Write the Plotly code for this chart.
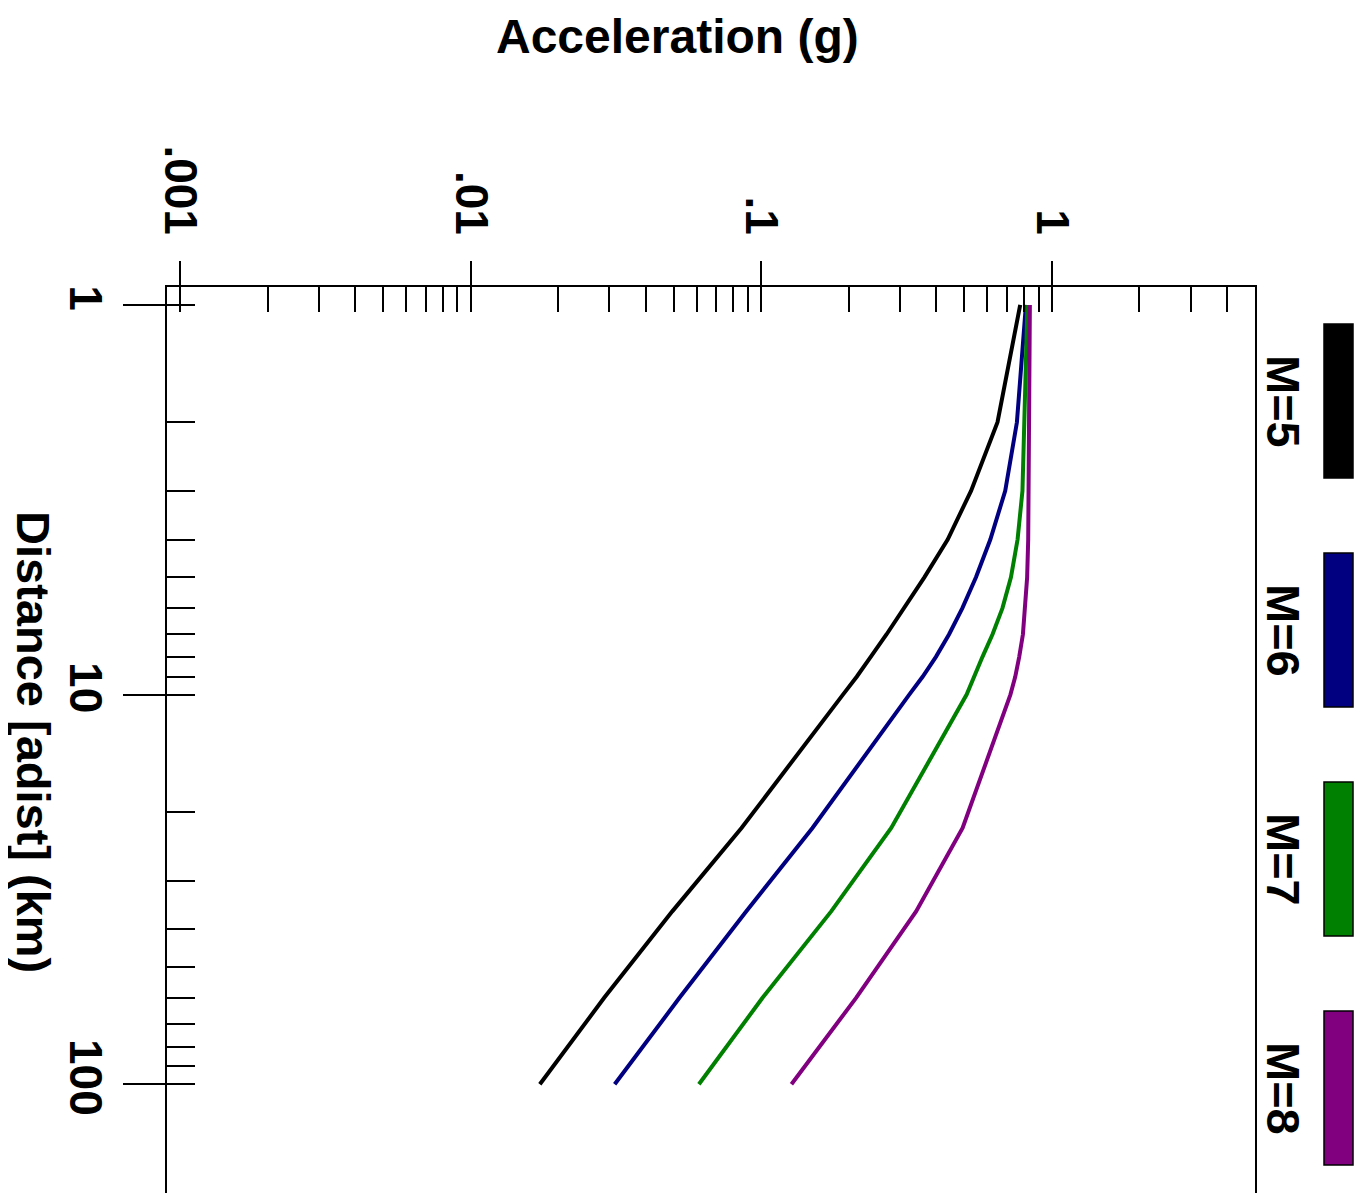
import numpy as np
import plotly.graph_objects as go

# ---------------------------------------------
# Data
# ---------------------------------------------
DISTANCE_KM = [1, 2, 3, 4, 5, 6, 7, 8, 9, 10, 22, 36, 60, 100]

ACC_M5 = [0.778, 0.650, 0.527, 0.438, 0.364, 0.310, 0.270, 0.238, 0.213, 0.191, 0.0855, 0.0494, 0.0288, 0.0173]
ACC_M6 = [0.814, 0.758, 0.691, 0.614, 0.548, 0.492, 0.443, 0.399, 0.359, 0.323, 0.150, 0.0887, 0.0523, 0.0313]
ACC_M7 = [0.824, 0.807, 0.792, 0.762, 0.723, 0.676, 0.625, 0.577, 0.541, 0.509, 0.280, 0.174, 0.101, 0.061]
ACC_M8 = [0.840, 0.836, 0.834, 0.829, 0.822, 0.810, 0.795, 0.772, 0.748, 0.720, 0.493, 0.341, 0.212, 0.127]

SERIES_NAMES = ["M=5", "M=6", "M=7", "M=8"]
SERIES_COLORS = ["#000000", "#000080", "#008000", "#800080"]

X_MAJOR = [0.001, 0.01, 0.1, 1]
X_MAJOR_TEXT = [".001", ".01", ".1", "1"]
Y_MAJOR = [1, 10, 100]
Y_MAJOR_TEXT = ["1", "10", "100"]

X_TITLE = "Acceleration (g)"
Y_TITLE = "Distance [adist] (km)"

# ---------------------------------------------
# Layout config (pixel targets on the 1366x1193 page)
# ---------------------------------------------
OFFSET = 8                       # default body margin of the html page
W, H = 1366 - OFFSET, 1193 - OFFSET
PLOT_L, PLOT_R, PLOT_T, PLOT_B = 167, 1255, 287, 1193
X_RANGE = [-3.045, np.log10(5)]      # log10 units
Y_RANGE = [2.279, -0.046]            # reversed: distance grows downward

FONT = "Arial, Liberation Sans, sans-serif"
TITLE_SIZE = 48
YTITLE_SIZE = 47
TICK_SIZE = 46
LEGEND_SIZE = 47


def paper_x(px):
    return (px - PLOT_L) / (PLOT_R - PLOT_L)


def paper_y(py):
    return (PLOT_B - py) / (PLOT_B - PLOT_T)


def decade_ticks(lo_exp, hi_exp, last_max=9):
    vals = []
    for e in range(lo_exp, hi_exp + 1):
        top = last_max if e == hi_exp else 9
        for k in range(1, top + 1):
            vals.append(k * 10.0 ** e)
    return vals


x_all_ticks = decade_ticks(-3, 0, last_max=4)
y_all_ticks = decade_ticks(0, 2, last_max=1)

fig = go.Figure()

for name, color, acc in zip(SERIES_NAMES, SERIES_COLORS, [ACC_M5, ACC_M6, ACC_M7, ACC_M8]):
    fig.add_trace(go.Scatter(
        x=acc, y=DISTANCE_KM, name=name, mode="lines",
        line=dict(color=color, width=4),
        showlegend=False,
    ))

# empty trace so the inner-tick overlay axes get drawn
fig.add_trace(go.Scatter(x=[], y=[], xaxis="x2", yaxis="y2", showlegend=False, hoverinfo="skip"))

tickfont = dict(family=FONT, size=TICK_SIZE, color="black", weight="bold")

fig.update_layout(
    width=W, height=H,
    margin=dict(l=PLOT_L - OFFSET, r=1366 - PLOT_R, t=PLOT_T - OFFSET, b=0, pad=0),
    paper_bgcolor="white", plot_bgcolor="white",
    showlegend=False,
    xaxis=dict(
        type="log", range=X_RANGE, side="top",
        showline=True, linecolor="black", linewidth=2,
        ticks="outside", ticklen=24, tickwidth=2, tickcolor="black",
        tickvals=X_MAJOR, ticktext=X_MAJOR_TEXT, tickangle=90,
        tickfont=tickfont, ticklabelstandoff=10,
        showgrid=False, zeroline=False,
    ),
    yaxis=dict(
        type="log", range=Y_RANGE,
        showline=True, mirror=True, linecolor="black", linewidth=2,
        ticks="outside", ticklen=42, tickwidth=2, tickcolor="black",
        tickvals=Y_MAJOR, ticktext=Y_MAJOR_TEXT, tickangle=90,
        tickfont=tickfont, ticklabelstandoff=-2,
        showgrid=False, zeroline=False,
    ),
    xaxis2=dict(
        type="log", range=X_RANGE, overlaying="x", side="top", anchor="y",
        ticks="inside", ticklen=25, tickwidth=2, tickcolor="black",
        tickvals=x_all_ticks, showticklabels=False,
        showline=False, showgrid=False, zeroline=False,
    ),
    yaxis2=dict(
        type="log", range=Y_RANGE, overlaying="y", side="left", anchor="x",
        ticks="inside", ticklen=28, tickwidth=2, tickcolor="black",
        tickvals=y_all_ticks, showticklabels=False,
        showline=False, showgrid=False, zeroline=False,
    ),
)

titlefont = dict(family=FONT, size=TITLE_SIZE, color="black", weight="bold")
ytitlefont = dict(family=FONT, size=YTITLE_SIZE, color="black", weight="bold")
legendfont = dict(family=FONT, size=LEGEND_SIZE, color="black", weight="bold")

fig.add_annotation(
    text=X_TITLE, xref="paper", yref="paper",
    x=paper_x(677), y=paper_y(36), xanchor="center", yanchor="middle",
    showarrow=False, font=titlefont,
)
fig.add_annotation(
    text=Y_TITLE, xref="paper", yref="paper", textangle=90,
    x=paper_x(34), y=paper_y(742), xanchor="center", yanchor="middle",
    showarrow=False, font=ytitlefont,
)

# legend: colour boxes on the right with rotated labels
BOX_X0, BOX_X1 = 1324, 1353
BOX_TOP0, BOX_H, BOX_STEP = 324, 154, 229
for i, (name, color) in enumerate(zip(SERIES_NAMES, SERIES_COLORS)):
    top = BOX_TOP0 + i * BOX_STEP
    fig.add_shape(
        type="rect", xref="paper", yref="paper",
        x0=paper_x(BOX_X0), x1=paper_x(BOX_X1),
        y0=paper_y(top + BOX_H), y1=paper_y(top),
        fillcolor=color, line=dict(color="black", width=1.5),
    )
    fig.add_annotation(
        text=name, xref="paper", yref="paper", textangle=90,
        x=paper_x(1284), y=paper_y(top + BOX_H / 2), xanchor="center", yanchor="middle",
        showarrow=False, font=legendfont,
    )

fig.write_html("out.html")
